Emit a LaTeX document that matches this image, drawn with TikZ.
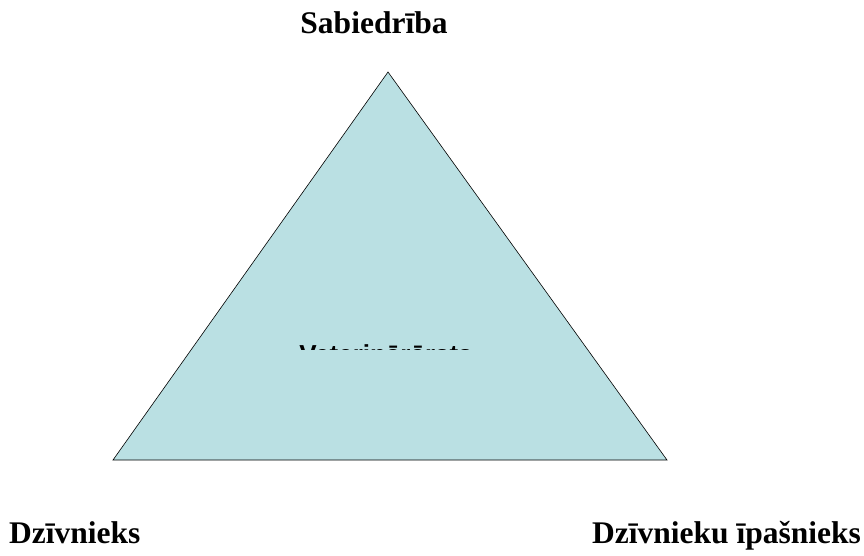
\documentclass[tikz,border=0pt]{standalone}
\usepackage{fontspec}
\setmainfont{Liberation Serif}
\newfontfamily\arialbold{Liberation Sans}
\definecolor{dreieck}{RGB}{186,224,227}
\begin{document}
\begin{tikzpicture}[x=1pt, y=-1pt, font=\fontsize{31.5}{34}\selectfont\bfseries]
  \useasboundingbox (0,0) rectangle (864,555);
  % Ecken des Dreiecks
  \coordinate (oben) at (388,72);
  \coordinate (links) at (113,460);
  \coordinate (rechts) at (667,460);
  \draw[fill=dreieck, line width=0.6pt] (oben) -- (links) -- (rechts) -- cycle;

  % Beschriftungen
  \node[anchor=base, inner sep=0pt] (sabiedriba) at (374,33) {Sabiedrība};
  \node[anchor=base west, inner sep=0pt] (dzivnieks) at (9,543) {Dzīvnieks};
  \node[anchor=base east, inner sep=0pt] (ipasnieks) at (861,543) {Dzīvnieku īpašnieks};

  % abgeschnittener Text in der Mitte
  \begin{scope}
    \clip (280,344.5) rectangle (490,349.5);
    \node[anchor=base, inner sep=0pt, font=\arialbold\fontsize{26}{30}\selectfont\bfseries] (vet) at (386,363) {Veterinārārsts};
  \end{scope}
\end{tikzpicture}
\end{document}
